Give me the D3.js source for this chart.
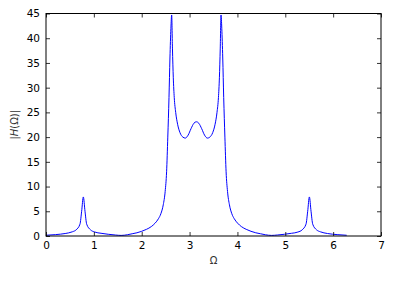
<!DOCTYPE html>
<html><head><meta charset="utf-8">
<script src="https://cdn.jsdelivr.net/npm/d3@7"></script>
<style>
html,body{margin:0;padding:0;background:#fff;}
svg{display:block;}
text{font-family:"DejaVu Sans",sans-serif;}
</style></head>
<body>
<svg id="c" width="412" height="281"></svg>
<script>
const omega = [0.00,0.20,0.40,0.55,0.63,0.71,0.745,0.78,0.815,0.85,0.93,1.02,1.15,1.30,1.45,1.57,1.70,1.80,1.90,2.00,2.10,2.20,2.28,2.35,2.40,2.45,2.49,2.52,2.545,2.57,2.59,2.61,2.626,2.642,2.66,2.68,2.71,2.75,2.80,2.86,2.91,2.97,3.03,3.09,3.1416,
3.1932,3.2532,3.3132,3.3732,3.4232,3.4832,3.5332,3.5732,3.6032,3.6232,3.6412,3.6572,3.6732,3.6932,3.7132,3.7382,3.7632,3.7932,3.8332,3.8832,3.9332,4.0032,4.0832,4.1832,4.2832,4.3832,4.4832,4.5832,4.7132,4.8332,4.9832,5.1332,5.2632,5.3532,5.4332,5.4682,5.5032,5.5382,5.5732,5.6532,5.7332,5.8832,6.0832,6.2832];
const magH = [0.15,0.28,0.5,0.85,1.25,2.4,5.0,7.9,5.0,2.4,1.25,0.8,0.55,0.35,0.2,0.12,0.25,0.45,0.65,0.95,1.35,1.9,2.6,3.5,4.5,6.3,9.0,13,20,28,36,42,44.7,38,32,28,25,22.6,20.9,20.0,19.8,20.4,21.7,22.8,23.1,
22.8,21.7,20.4,19.8,20.0,20.9,22.6,25,28,32,38,44.7,42,36,28,20,13,9.0,6.3,4.5,3.5,2.6,1.9,1.35,0.95,0.65,0.45,0.25,0.12,0.2,0.35,0.55,0.8,1.25,2.4,5.0,7.9,5.0,2.4,1.25,0.85,0.5,0.28,0.15];
const xTicks = [0,1,2,3,4,5,6,7];
const yTicks = [0,5,10,15,20,25,30,35,40,45];

const svg = d3.select("#c");
const L=46, R=381, T=13.5, B=236;
const x = d3.scaleLinear().domain([0,7]).range([L,R]);
const y = d3.scaleLinear().domain([0,45]).range([B,T]);

svg.append("defs").append("clipPath").attr("id","cp").append("rect")
  .attr("x",L).attr("y",T).attr("width",R-L).attr("height",B-T);

const pts = omega.map((o,i)=>[o,magH[i]]);
svg.append("path").datum(pts)
  .attr("clip-path","url(#cp)")
  .attr("fill","none").attr("stroke","#0000ff").attr("stroke-width",1)
  .attr("d", d3.line().x(d=>x(d[0])).y(d=>y(d[1])).curve(d3.curveMonotoneX));

const tl = 4;
function styleAxis(g){
  g.select(".domain").remove();
  g.selectAll(".tick line").attr("stroke","#000").attr("stroke-width",0.8);
  g.selectAll(".tick text").attr("font-size","10.5px").attr("fill","#000").attr("font-family","DejaVu Sans, sans-serif");
}
svg.append("g").attr("transform",`translate(0,${B})`)
  .call(d3.axisBottom(x).tickValues(xTicks).tickSize(-tl).tickPadding(6).tickFormat(d3.format("d")))
  .call(styleAxis);
svg.append("g").attr("transform",`translate(0,${T})`)
  .call(d3.axisTop(x).tickValues(xTicks).tickSize(-tl).tickFormat(""))
  .call(styleAxis);
svg.append("g").attr("transform",`translate(${L},0)`)
  .call(d3.axisLeft(y).tickValues(yTicks).tickSize(-tl).tickPadding(6).tickFormat(d3.format("d")))
  .call(styleAxis);
svg.append("g").attr("transform",`translate(${R},0)`)
  .call(d3.axisRight(y).tickValues(yTicks).tickSize(-tl).tickFormat(""))
  .call(styleAxis);

svg.append("rect").attr("x",L).attr("y",T).attr("width",R-L).attr("height",B-T)
  .attr("fill","none").attr("stroke","#000").attr("stroke-width",1);

svg.append("text").attr("x",(L+R)/2).attr("y",264).attr("text-anchor","middle")
  .attr("font-size","10px").attr("fill","#333").text("Ω");
svg.append("text").attr("transform",`translate(18,${(T+B)/2}) rotate(-90)`)
  .attr("text-anchor","middle").attr("font-size","10px").attr("fill","#333")
  .attr("font-family","DejaVu Serif, serif")
  .html('|<tspan font-style="italic">H</tspan>(Ω)|');
</script>
</body></html>
